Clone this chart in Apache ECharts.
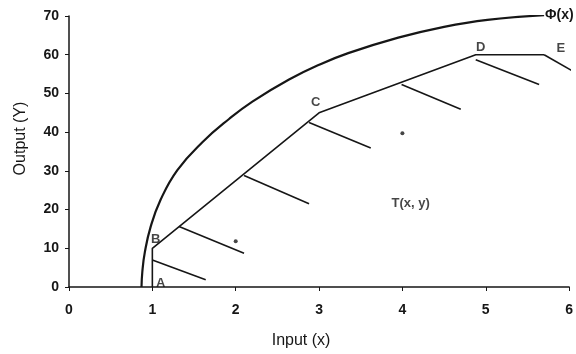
<!DOCTYPE html>
<html>
<head>
<meta charset="utf-8">
<script src="https://cdn.jsdelivr.net/npm/echarts@6/dist/echarts.min.js"></script>
<style>
  html, body { margin: 0; padding: 0; background: #fff; }
  #chart { width: 576px; height: 354px; }
</style>
</head>
<body>
<div id="chart"></div>
<script>
// production frontier phi(x)
const phiCurve = [
  [0.87, 0], [0.88, 4], [0.91, 9], [0.98, 15.6], [1.1, 22.6], [1.3, 30.2],
  [1.6, 37.4], [1.92, 43.4], [2.2, 47.9], [2.64, 53.6], [3.0, 57.4],
  [3.35, 60.4], [3.95, 64.4], [4.5, 67.2], [5.02, 69], [5.7, 70.2]
];
// piecewise technology boundary A-B-C-D-E
const frontier = [[1, 0], [1, 10], [3, 45], [4.88, 60], [5.7, 60]];
// hatch marks below the boundary (start, end)
const hatches = [
  [[1.0, 7], [1.64, 1.9]],
  [[1.32, 15.6], [2.1, 8.7]],
  [[2.1, 28.8], [2.88, 21.5]],
  [[2.88, 42.5], [3.62, 35.9]],
  [[3.99, 52.3], [4.7, 45.9]],
  [[4.88, 58.7], [5.64, 52.3]],
  [[5.7, 60], [6.05, 55.7]]
];
const dots = [[2.0, 11.8], [4.0, 39.7]];
const pointLabels = [
  [1.1, 1.0, 'A'], [1.04, 12.2, 'B'], [2.96, 47.8, 'C'],
  [4.94, 61.9, 'D'], [5.9, 61.6, 'E'], [4.1, 21.5, 'T(x, y)']
];
const xTicks = [0, 1, 2, 3, 4, 5, 6];
const yTicks = [0, 10, 20, 30, 40, 50, 60, 70];

const ink = '#161616';
const font = 'Liberation Sans';
const chart = echarts.init(document.getElementById('chart'));

const hatchSeries = hatches.map((seg, i) => ({
  type: 'line',
  data: seg,
  symbol: 'none',
  clip: i !== hatches.length - 1,
  lineStyle: { color: ink, width: 1.6 },
  silent: true
}));

chart.setOption({
  animation: false,
  grid: { left: 69, right: 4, top: 16, bottom: 64 },
  xAxis: {
    type: 'value',
    min: xTicks[0],
    max: xTicks[xTicks.length - 1],
    interval: 1,
    name: 'Input (x)',
    nameLocation: 'middle',
    nameGap: 46,
    nameTextStyle: { fontFamily: font, fontSize: 16, color: ink, padding: [0, 36, 0, 0] },
    splitLine: { show: false },
    axisLine: { lineStyle: { color: ink, width: 1.5 } },
    axisTick: { length: 4, lineStyle: { color: ink } },
    axisLabel: { fontFamily: font, fontWeight: 'bold', fontSize: 14, color: ink, margin: 16 }
  },
  yAxis: {
    type: 'value',
    min: yTicks[0],
    max: yTicks[yTicks.length - 1],
    interval: 10,
    name: 'Output (Y)',
    nameLocation: 'middle',
    nameGap: 40,
    nameTextStyle: { fontFamily: font, fontSize: 16, color: ink, padding: [0, 0, 0, 26] },
    splitLine: { show: false },
    axisLine: { show: true, lineStyle: { color: ink, width: 1.5 } },
    axisTick: { show: true, length: 4, lineStyle: { color: ink } },
    axisLabel: { fontFamily: font, fontWeight: 'bold', fontSize: 14, color: ink, margin: 10 }
  },
  series: [
    {
      type: 'line',
      data: phiCurve,
      smooth: 0.45,
      symbol: 'none',
      lineStyle: { color: ink, width: 2.2 },
      endLabel: {
        show: true,
        formatter: 'Φ(x)',
        fontFamily: font,
        fontWeight: 'bold',
        fontSize: 14,
        color: ink,
        distance: 1
      }
    },
    {
      type: 'line',
      data: frontier,
      symbol: 'none',
      lineStyle: { color: ink, width: 1.6 }
    },
    ...hatchSeries,
    {
      type: 'scatter',
      data: dots,
      symbolSize: 4,
      itemStyle: { color: ink }
    },
    {
      type: 'scatter',
      data: pointLabels,
      symbolSize: 0,
      label: {
        show: true,
        position: 'inside',
        formatter: p => p.data[2],
        fontFamily: font,
        fontWeight: 'bold',
        fontSize: 13,
        color: ink
      }
    }
  ]
});
</script>
</body>
</html>
